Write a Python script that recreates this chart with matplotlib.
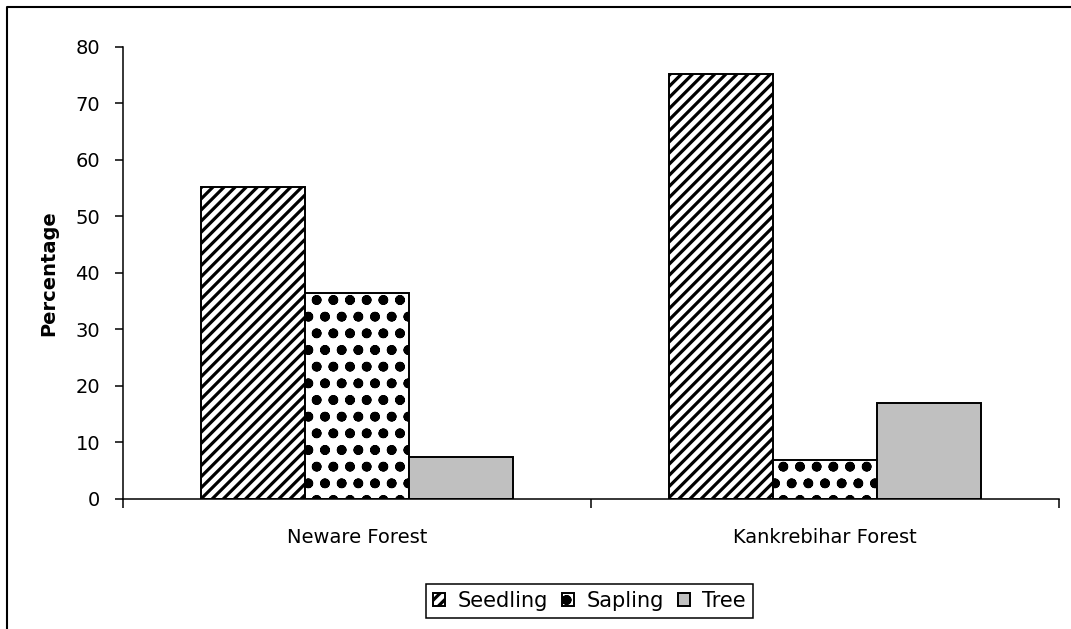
import matplotlib
matplotlib.use('Agg')
import matplotlib.pyplot as plt
from matplotlib.lines import Line2D
import numpy as np

sites = ['Neware Forest', 'Kankrebihar Forest']
stages = ['Seedling', 'Sapling', 'Tree']
seedling = [55.3, 75.3]
sapling = [36.5, 6.9]
tree = [7.4, 17.0]

plt.rcParams['font.family'] = 'DejaVu Sans'
plt.rcParams['hatch.linewidth'] = 2.3
plt.rcParams['hatch.color'] = 'black'

fig = plt.figure(figsize=(10.71, 6.29), dpi=100)
ax = fig.add_axes([0.1148, 0.2067, 0.874, 0.7186])

x = np.arange(len(sites))
w = 0.222
ax.bar(x - w, seedling, w, facecolor='white', edgecolor='black', linewidth=1.4,
       hatch='///', label=stages[0])
ax.bar(x, sapling, w, facecolor='white', edgecolor='black', linewidth=1.4,
       hatch='o.', label=stages[1])
ax.bar(x + w, tree, w, facecolor='#c0c0c0', edgecolor='black', linewidth=1.4,
       label=stages[2])

ax.set_xlim(-0.5, 1.5)
ax.set_ylim(0, 80)
ax.set_yticks(range(0, 81, 10))

# category boundaries as major ticks, names on minor ticks
ax.set_xticks([-0.5, 0.5, 1.5])
ax.set_xticklabels([])
ax.set_xticks(x, minor=True)
ax.set_xticklabels(sites, minor=True)
ax.tick_params(axis='x', which='major', direction='out', length=6.5, width=1.1)
ax.tick_params(axis='x', which='minor', length=0, pad=21, labelsize=14)
ax.tick_params(axis='y', direction='out', length=6, width=1.1, pad=10.5, labelsize=14)

for side in ['top', 'right']:
    ax.spines[side].set_visible(False)
for side in ['left', 'bottom']:
    ax.spines[side].set_linewidth(1.1)

ax.set_ylabel('Percentage', fontsize=14, fontweight='bold')
ax.yaxis.set_label_coords(-0.069, 0.5)

leg = ax.legend(loc='center', bbox_to_anchor=(0.5504, 0.0445),
                bbox_transform=fig.transFigure, ncol=3, fontsize=15,
                frameon=True, fancybox=False, edgecolor='black', framealpha=1,
                handlelength=0.55, handleheight=0.55, handletextpad=0.6,
                columnspacing=0.7, borderpad=0.35)
leg.get_frame().set_linewidth(1.1)

# outer frame (only top and left edges visible in original)
fx = 7 / 1071
fy = 1 - 7 / 629
fig.add_artist(Line2D([fx, fx, 1], [0, fy, fy], transform=fig.transFigure,
                      color='black', linewidth=1.5))

fig.savefig('out.png', dpi=100)
